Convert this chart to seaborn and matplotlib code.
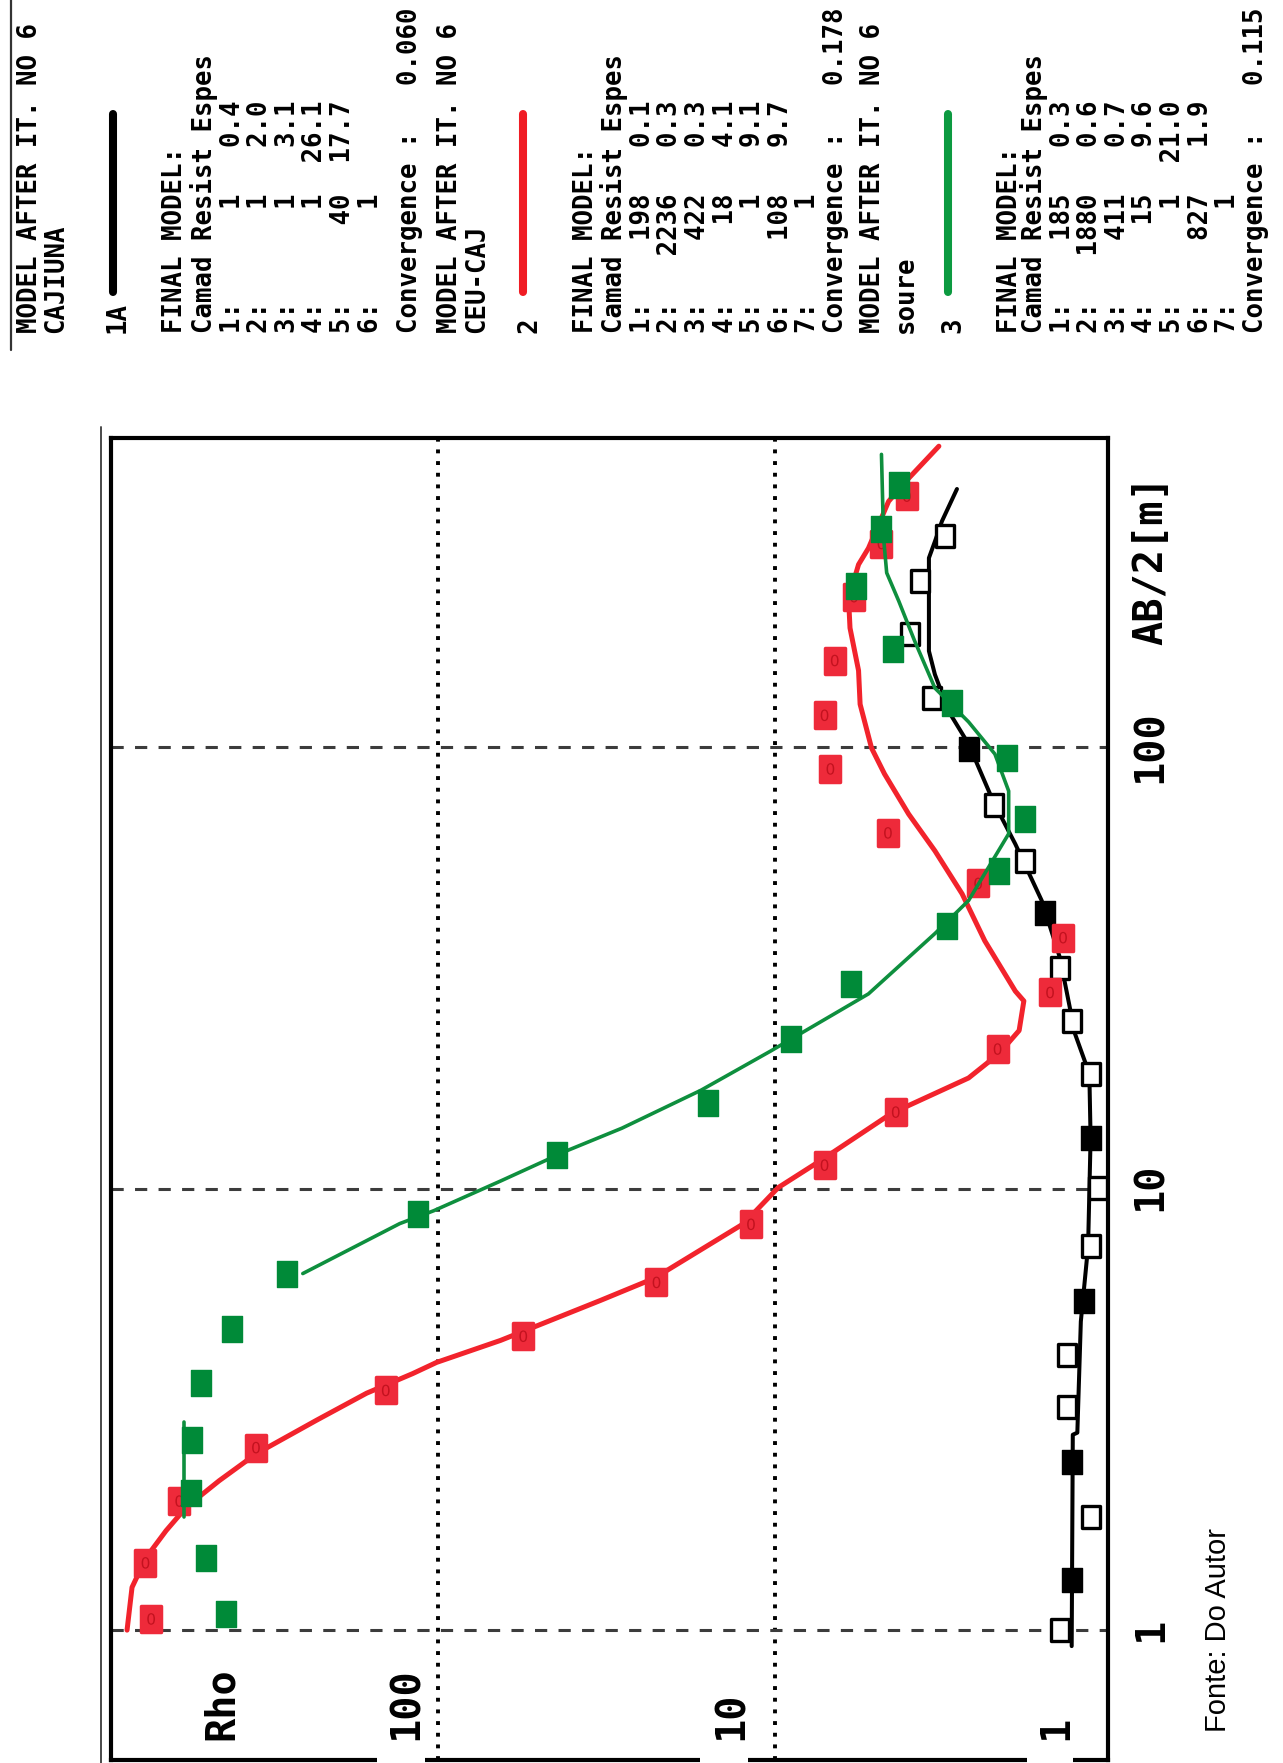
import numpy as np
import pandas as pd
import matplotlib
matplotlib.use("Agg")
import matplotlib.pyplot as plt
import seaborn as sns
from matplotlib.lines import Line2D
from matplotlib.patches import Rectangle
from matplotlib.path import Path
from matplotlib.markers import MarkerStyle
from matplotlib.ticker import NullLocator

# ---------------- data (AB/2 [m], Rho [ohm.m]) ----------------
# 1A  CAJIUNA  (black)
black_ab = [1.0, 1.30, 1.80, 2.40, 3.2, 4.2, 5.55, 7.4, 10.05, 13.0, 18.2, 24.0,
            31.6, 42.1, 55.2, 74.0, 99.0, 129.0, 180.0, 238.0, 300.0]
black_rho = [1.43, 1.32, 1.16, 1.32, 1.36, 1.36, 1.21, 1.16, 1.10, 1.16, 1.16, 1.32,
             1.43, 1.58, 1.82, 2.24, 2.67, 3.43, 3.99, 3.73, 3.14]
black_filled = [False, True, False, True, False, False, True, False, False, True, False, False,
                False, True, False, False, True, False, False, False, False]
black_fit_ab = [0.92, 2.77, 2.8, 5.0, 7.4, 13.0, 18.2, 22.4, 33.3, 44.9, 60.3, 75.0,
                101.6, 120.0, 146.0, 165.0, 268.0, 292.0, 325.0, 384.0]
black_fit_rho = [1.32, 1.31, 1.27, 1.24, 1.18, 1.16, 1.17, 1.29, 1.43, 1.62, 1.94, 2.25,
                 2.67, 3.05, 3.36, 3.5, 3.5, 3.36, 3.2, 2.89]

# 2  CEU-CAJ  (red)
red_ab = [1.06, 1.42, 1.96, 2.59, 3.49, 4.63, 6.13, 8.3, 11.3, 14.9, 20.7, 27.8,
          37.0, 49.1, 63.9, 89.2, 118.0, 157.0, 219.0, 289.0, 370.0]
red_rho = [710, 738, 586, 347, 143, 55.9, 22.5, 11.8, 7.14, 4.39, 2.19, 1.53,
           1.40, 2.50, 4.63, 6.86, 7.14, 6.66, 5.84, 4.84, 4.07]
red_fit_ab = [1.0, 1.25, 1.46, 1.68, 1.90, 2.18, 2.51, 2.99, 3.44, 3.81, 4.04, 4.53,
              5.58, 6.26, 8.33, 10.05, 11.6, 14.8, 17.8, 20.2, 22.8, 26.6, 28.0, 36.4,
              46.5, 58.2, 70.5, 86.9, 99.5, 125.0, 149.0, 186.0, 217.0, 259.0, 282.0,
              360.0, 406.0, 480.0]
red_fit_rho = [837, 809, 735, 641, 558, 446, 346, 229, 163, 119, 101, 65.3,
               33.0, 22.9, 12.4, 9.8, 7.3, 4.52, 2.67, 2.17, 1.89, 1.83, 1.94, 2.39,
               2.79, 3.36, 4.02, 4.74, 5.18, 5.6, 5.66, 6.0, 6.06, 5.66, 5.29,
               4.61, 4.02, 3.27]

# 3  soure  (green)
green_ab = [1.09, 1.46, 2.04, 2.69, 3.62, 4.82, 6.42, 8.78, 11.9, 15.6, 21.8, 29.1,
            39.4, 52.4, 68.7, 94.4, 126.0, 167.0, 231.0, 311.0, 393.0]
green_rho = [425, 487, 540, 536, 504, 408, 281, 115, 44.3, 15.8, 8.96, 5.94,
             3.10, 2.17, 1.82, 2.05, 2.99, 4.46, 5.74, 4.87, 4.28]
green_fit1_ab = [1.80, 2.96]
green_fit1_rho = [566, 566]
green_fit2_ab = [6.42, 8.33, 8.91, 10.4, 12.2, 13.7, 16.7, 20.5, 27.6, 37.8, 44.9, 63.6,
                 79.5, 96.4, 114.0, 136.0, 174.0, 214.0, 248.0, 297.0, 460.0]
green_fit2_rho = [252, 130, 103, 65.3, 41.3, 28.5, 16.6, 10.3, 5.29, 3.36, 2.67, 2.03,
                  2.03, 2.23, 2.67, 3.36, 3.86, 4.30, 4.67, 4.77, 4.84]

# gridlines and tick labels
rho_grid = [10, 100]
ab_grid = [1, 10, 100]
rho_labels = ["Rho", "100", "10", "1"]
ab_labels = ["1", "10", "100", "AB/2[m]"]

# text panel
blocks = [
    dict(name="CAJIUNA", tag="1A", resist=[1, 1, 1, 1, 40, 1],
         espes=["0.4", "2.0", "3.1", "26.1", "17.7", ""], conv="0.060", color="black"),
    dict(name="CEU-CAJ", tag="2", resist=[198, 2236, 422, 18, 1, 108, 1],
         espes=["0.1", "0.3", "0.3", "4.1", "9.1", "9.7", ""], conv="0.178", color="#f01c24"),
    dict(name="soure", tag="3", resist=[185, 1880, 411, 15, 1, 827, 1],
         espes=["0.3", "0.6", "0.7", "9.6", "21.0", "1.9", ""], conv="0.115", color="#0c9a40"),
]

# ---------------- figure ----------------
sns.set_theme(style="white")
plt.rcParams["font.family"] = ["DejaVu Sans Mono", "DejaVu Sans"]

W, H = 1283, 1763
fig = plt.figure(figsize=(W / 100, H / 100), dpi=100)
fig.patch.set_facecolor("white")


def fx(x):
    return x / W


def fy(y):
    return 1 - y / H


ax = fig.add_axes([fx(111), fy(1760), (1108 - 111) / W, (1760 - 438) / H])
ax.set_facecolor("white")
ax.set_xscale("log")
ax.set_yscale("log")
ax.set_xlim(934, 1.03)
ax.set_ylim(0.508, 501)
for axis in (ax.xaxis, ax.yaxis):
    axis.set_major_locator(NullLocator())
    axis.set_minor_locator(NullLocator())
ax.tick_params(which="both", length=0, labelleft=False, labelbottom=False)
for sp in ax.spines.values():
    sp.set_color("black")
    sp.set_linewidth(3.0)
    sp.set_visible(True)

# grid
for r in rho_grid:
    ax.axvline(r, color="black", lw=2.8, ls=(0, (1, 2)), zorder=1)
for a in ab_grid:
    ax.axhline(a, color="#3c3c3c", lw=2.2, ls=(0, (4, 3.7)), zorder=1)

rect = MarkerStyle(Path([(-0.4, -0.5), (0.4, -0.5), (0.4, 0.5), (-0.4, 0.5), (-0.4, -0.5)],
                        [Path.MOVETO, Path.LINETO, Path.LINETO, Path.LINETO, Path.CLOSEPOLY]))

# black series
sns.lineplot(x=black_fit_rho, y=black_fit_ab, sort=False, estimator=None,
             color="black", lw=2.9, ax=ax, zorder=3)
bf = np.array(black_filled)
bab = np.array(black_ab)
brho = np.array(black_rho)
sns.scatterplot(x=brho[bf], y=bab[bf], marker=rect, s=300, color="black",
                edgecolor="black", linewidth=1.0, ax=ax, zorder=4)
sns.scatterplot(x=brho[~bf], y=bab[~bf], marker=rect, s=260, color="white",
                edgecolor="black", linewidth=2.4, ax=ax, zorder=4)

# red series
sns.lineplot(x=red_fit_rho, y=red_fit_ab, sort=False, estimator=None,
             color="#f2232c", lw=3.6, ax=ax, zorder=5)
sns.scatterplot(x=red_rho, y=red_ab, marker=rect, s=330, color="#ee2a3a",
                edgecolor="#ee2a3a", linewidth=2.5, ax=ax, zorder=6)
ax.collections[-1].set_joinstyle("round")
sns.scatterplot(x=red_rho, y=red_ab, marker="$0$", s=70, color="#c3121f",
                edgecolor="none", linewidth=0, ax=ax, zorder=7)

# green series
sns.lineplot(x=green_fit1_rho, y=green_fit1_ab, sort=False, estimator=None,
             color="#0e8f3e", lw=2.6, ax=ax, zorder=8)
sns.lineplot(x=green_fit2_rho, y=green_fit2_ab, sort=False, estimator=None,
             color="#0e8f3e", lw=2.6, ax=ax, zorder=8)
sns.scatterplot(x=green_rho, y=green_ab, marker=rect, s=330, color="#008a38",
                edgecolor="#008a38", linewidth=1.0, ax=ax, zorder=9)

if ax.get_legend() is not None:
    ax.get_legend().remove()


# ---------------- texts ----------------
def vtext(x, y, s, size=18.5, weight="bold", family=("DejaVu Sans Mono", "DejaVu Sans"),
          ha="left", color="black"):
    fig.text(fx(x), fy(y), s, rotation=90, rotation_mode="anchor", ha=ha, va="baseline",
             fontsize=size, fontweight=weight, family=list(family), color=color)


# axis labels (Rho) inside the frame, bottom
for lab, xb in zip(rho_labels, [233, 418, 743, 1067]):
    vtext(xb, 1740, lab, size=29, weight="bold")
# white gaps in bottom frame under the numeric labels
for x0, x1 in [(377, 425), (700, 748), (1027, 1073)]:
    fig.add_artist(Rectangle((fx(x0), 0), (x1 - x0) / W, 14 / H, transform=fig.transFigure,
                             facecolor="white", edgecolor="none", zorder=5))

# AB/2 labels, right of the frame
for lab, yc in zip(ab_labels, [1630, 1187, 747, 560]):
    vtext(1162, yc, lab, size=29, weight="bold", ha="center")

# source
vtext(1226, 1732, "Fonte: Do Autor", size=21, weight="normal",
      family=("Liberation Sans", "DejaVu Sans"))

# extra frame lines
fig.add_artist(Line2D([fx(101), fx(101)], [fy(427), 0], color="#4a4a4a", lw=1.4))
fig.add_artist(Line2D([fx(11), fx(11)], [1, fy(350)], color="#333333", lw=1.6))

# text panel
layouts = [
    dict(model=37, name=63, tag=125, line=113, final=182, camad=212,
         rows=[240, 267, 295, 322, 350, 378], conv=417),
    dict(model=457, name=484, tag=537, line=523, final=593, camad=622,
         rows=[650, 677, 705, 733, 760, 788, 815], conv=843),
    dict(model=880, name=913, tag=960, line=948, final=1017, camad=1042,
         rows=[1070, 1097, 1125, 1152, 1180, 1208, 1235], conv=1263),
]
Y0 = 333
for blk, lay in zip(blocks, layouts):
    vtext(lay["model"], Y0, "MODEL AFTER IT. NO 6")
    vtext(lay["name"], Y0, blk["name"])
    vtext(lay["tag"], Y0, blk["tag"])
    fig.add_artist(Line2D([fx(lay["line"]), fx(lay["line"])], [fy(292), fy(114)],
                          color=blk["color"], lw=5.8, solid_capstyle="round"))
    vtext(lay["final"], Y0, "FINAL MODEL:")
    vtext(lay["camad"], Y0, "Camad Resist Espes")
    for i, (xb, r, e) in enumerate(zip(lay["rows"], blk["resist"], blk["espes"]), start=1):
        vtext(xb, Y0, f"{i}:{r:>7}{e:>6}")
    vtext(lay["conv"], Y0, f"Convergence :   {blk['conv']}")

fig.savefig("out.png", dpi=100, facecolor="white")
